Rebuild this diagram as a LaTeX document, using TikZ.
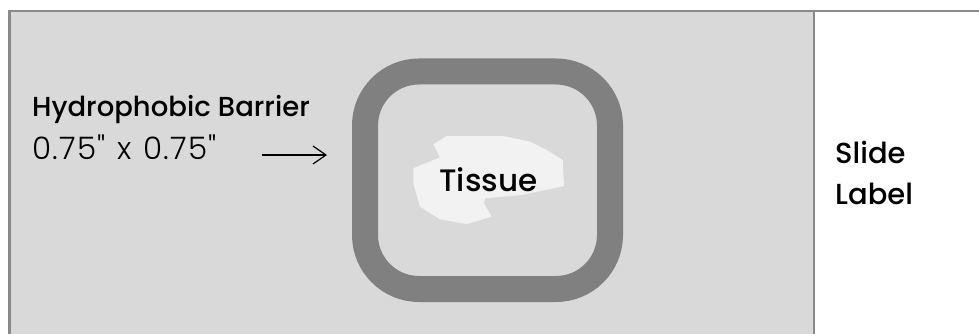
\documentclass[tikz,border=0pt]{standalone}
\usepackage{fontspec}
\setmainfont{Poppins}[UprightFont=* Medium]
\newfontfamily\lightfont{Poppins}[UprightFont=* Light, LetterSpace=4, WordSpace=1.2]
\usetikzlibrary{arrows.meta}
\definecolor{bggray}{HTML}{D9D9D9}
\definecolor{ringgray}{HTML}{808080}
\definecolor{edgegray}{HTML}{8A8A8A}
\definecolor{tissuecol}{HTML}{F2F2F2}
\tikzset{
  lbl/.style={inner sep=0pt, anchor=base west, text=black},
  edge/.style={draw=edgegray, line width=2.5pt},
}
\begin{document}
\begin{tikzpicture}[x=1pt,y=-1pt]
\useasboundingbox (0,0) rectangle (979,334);
\fill[white] (0,0) rectangle (979,334);
\fill[bggray] (9.5,11) rectangle (814,334);
\draw[edge] (9.5,334) -- (9.5,11) -- (979,11);
\draw[edge] (814,11) -- (814,334);
% barrier ring
\draw[ringgray, line width=26pt, rounded corners=54pt] (365,71.5) rectangle (610,289);
\coordinate (ring) at (352,155);
% tissue
\fill[tissuecol] (433.3,144.3) -- (446.7,136) -- (503.3,136) -- (530,141.7) -- (546.7,150) -- (562.7,160) -- (564,186) -- (521.7,195) -- (485,198.3) -- (484,203.3) -- (491.7,216.7) -- (466.7,224) -- (440,219.3) -- (420,206.7) -- (413.3,183.3) -- (413.3,168.3) -- (440,157.3) -- cycle;
\node[inner sep=0pt, anchor=base, font=\fontsize{31}{31}\selectfont] (tissue) at (488.5,191) {Tissue};
% labels
\node[lbl, font=\fontsize{27.5}{28}\selectfont] (hb) at (32,117) {Hydrophobic Barrier};
\node[lbl, font=\fontsize{31}{31}\lightfont] (dim) at (32,159) {0.75" x 0.75"};
\coordinate (arrstart) at (262,155);
\coordinate (arrend) at (327,155);
\draw[line width=1.2pt, -{Straight Barb[length=13pt,width=18pt]}] (arrstart) -- (arrend);
\node[lbl, font=\fontsize{29}{29}\selectfont] (slide) at (835,163) {Slide};
\node[lbl, font=\fontsize{29}{29}\selectfont] (label) at (835,204) {Label};
\end{tikzpicture}
\end{document}
